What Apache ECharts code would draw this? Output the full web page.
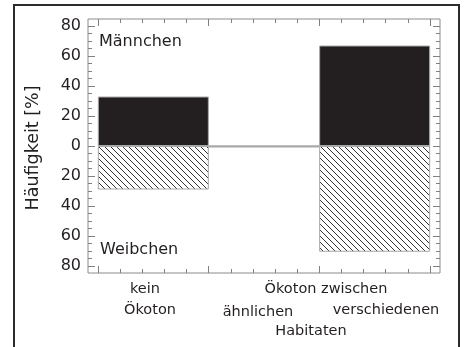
<!DOCTYPE html>
<html>
<head>
<meta charset="utf-8">
<script src="https://cdn.jsdelivr.net/npm/echarts@6/dist/echarts.min.js"></script>
<style>
html,body{margin:0;padding:0;background:#fff;}
#chart{width:467px;height:347px;}
</style>
</head>
<body>
<div id="chart"></div>
<script>
// ---- data ----
const barCenters = [0.5, 1.5, 2.5];
const maleValues = [33, 0, 67];          // Männchen (%)
const femaleValues = [29, 1, 70.5];      // Weibchen (%), drawn downward
const yTicks = [-80, -60, -40, -20, 0, 20, 40, 60, 80];
const xLabelTexts = ["kein", "Ökoton", "Ökoton zwischen", "ähnlichen", "verschiedenen", "Habitaten"];
const yTitle = "Häufigkeit [%]";
const maleLabel = "Männchen";
const femaleLabel = "Weibchen";

// ---- build ----
const FONT = '"DejaVu Sans", sans-serif';
const chart = echarts.init(document.getElementById('chart'), null, {renderer: 'canvas'});

const tile = document.createElement('canvas');
tile.width = 6; tile.height = 6;
const tc = tile.getContext('2d');
tc.fillStyle = '#fff'; tc.fillRect(0, 0, 6, 6);
tc.strokeStyle = '#333'; tc.lineWidth = 1;
for (const k of [-6, 0, 6]) { tc.beginPath(); tc.moveTo(k, 0); tc.lineTo(k + 6, 6); tc.stroke(); }

const maleData = barCenters.map((c, i) => [c, maleValues[i]]);
const femaleData = barCenters.map((c, i) => [c, -femaleValues[i]]);

const tickColor = '#808080';
const xTickAxis = (pos) => ({
  gridIndex: 1, type: 'value', min: 0, max: 3, interval: 1, position: pos, offset: 7,
  axisLine: {show: false, onZero: false},
  axisTick: {show: true, inside: true, length: 7, lineStyle: {color: tickColor, width: 1}},
  minorTick: {show: true, splitNumber: 5, length: 4, lineStyle: {color: tickColor, width: 1}},
  axisLabel: {show: false}, splitLine: {show: false}, minorSplitLine: {show: false}
});
const yTickAxis = (pos, labels) => ({
  gridIndex: 1, type: 'value', min: yTicks[0], max: yTicks[yTicks.length - 1], interval: 20,
  position: pos, offset: 10,
  axisLine: {show: false, onZero: false},
  axisTick: {show: true, inside: true, length: 7, lineStyle: {color: tickColor, width: 1}},
  minorTick: {show: true, splitNumber: 4, length: 4, lineStyle: {color: tickColor, width: 1}},
  axisLabel: {show: labels, margin: 7, color: '#231f20', fontSize: 16, fontFamily: FONT,
    formatter: v => String(Math.abs(v))},
  splitLine: {show: false}, minorSplitLine: {show: false}
});

const xLabelPos = [
  [145, 289], [150, 310], [326, 289], [258, 312], [386, 310], [311, 331]
];

const graphics = [
  {type: 'rect', shape: {x: 14, y: 5, width: 445, height: 400}, style: {fill: 'none', stroke: '#2b2b2b', lineWidth: 2}, silent: true},
  {type: 'text', x: 99, y: 42, style: {text: maleLabel, font: '16px ' + FONT, fill: '#231f20', textAlign: 'left', textVerticalAlign: 'middle'}},
  {type: 'text', x: 100, y: 250, style: {text: femaleLabel, font: '16px ' + FONT, fill: '#231f20', textAlign: 'left', textVerticalAlign: 'middle'}},
  {type: 'text', x: 33, y: 148, rotation: Math.PI / 2, style: {text: yTitle, font: '17.5px ' + FONT, fill: '#231f20', textAlign: 'center', textVerticalAlign: 'middle'}}
];
xLabelTexts.forEach((t, i) => {
  graphics.push({type: 'text', x: xLabelPos[i][0], y: xLabelPos[i][1],
    style: {text: t, font: '14.5px ' + FONT, fill: '#231f20', textAlign: 'center', textVerticalAlign: 'middle'}});
});

chart.setOption({
  animation: false,
  backgroundColor: '#fff',
  grid: [
    {left: 88, top: 19, width: 352, height: 254, show: true, borderColor: '#8c8c8c', borderWidth: 1, backgroundColor: 'transparent'},
    {left: 98, top: 26, width: 332, height: 240}
  ],
  xAxis: [
    {gridIndex: 0, type: 'value', show: false, min: 0, max: 1},
    xTickAxis('bottom'),
    xTickAxis('top')
  ],
  yAxis: [
    {gridIndex: 0, type: 'value', show: false, min: 0, max: 1},
    yTickAxis('left', true),
    yTickAxis('right', false)
  ],
  series: [
    {type: 'bar', name: maleLabel, xAxisIndex: 1, yAxisIndex: 1, data: maleData, barWidth: 111, barGap: '-100%',
      itemStyle: {color: '#231f20', borderColor: '#a8a8a8', borderWidth: 1}},
    {type: 'bar', name: femaleLabel, xAxisIndex: 1, yAxisIndex: 1, data: femaleData, barWidth: 111, barGap: '-100%',
      itemStyle: {color: {image: tile, repeat: 'repeat'}, borderColor: '#a8a8a8', borderWidth: 1}}
  ],
  graphic: graphics
});
</script>
</body>
</html>
